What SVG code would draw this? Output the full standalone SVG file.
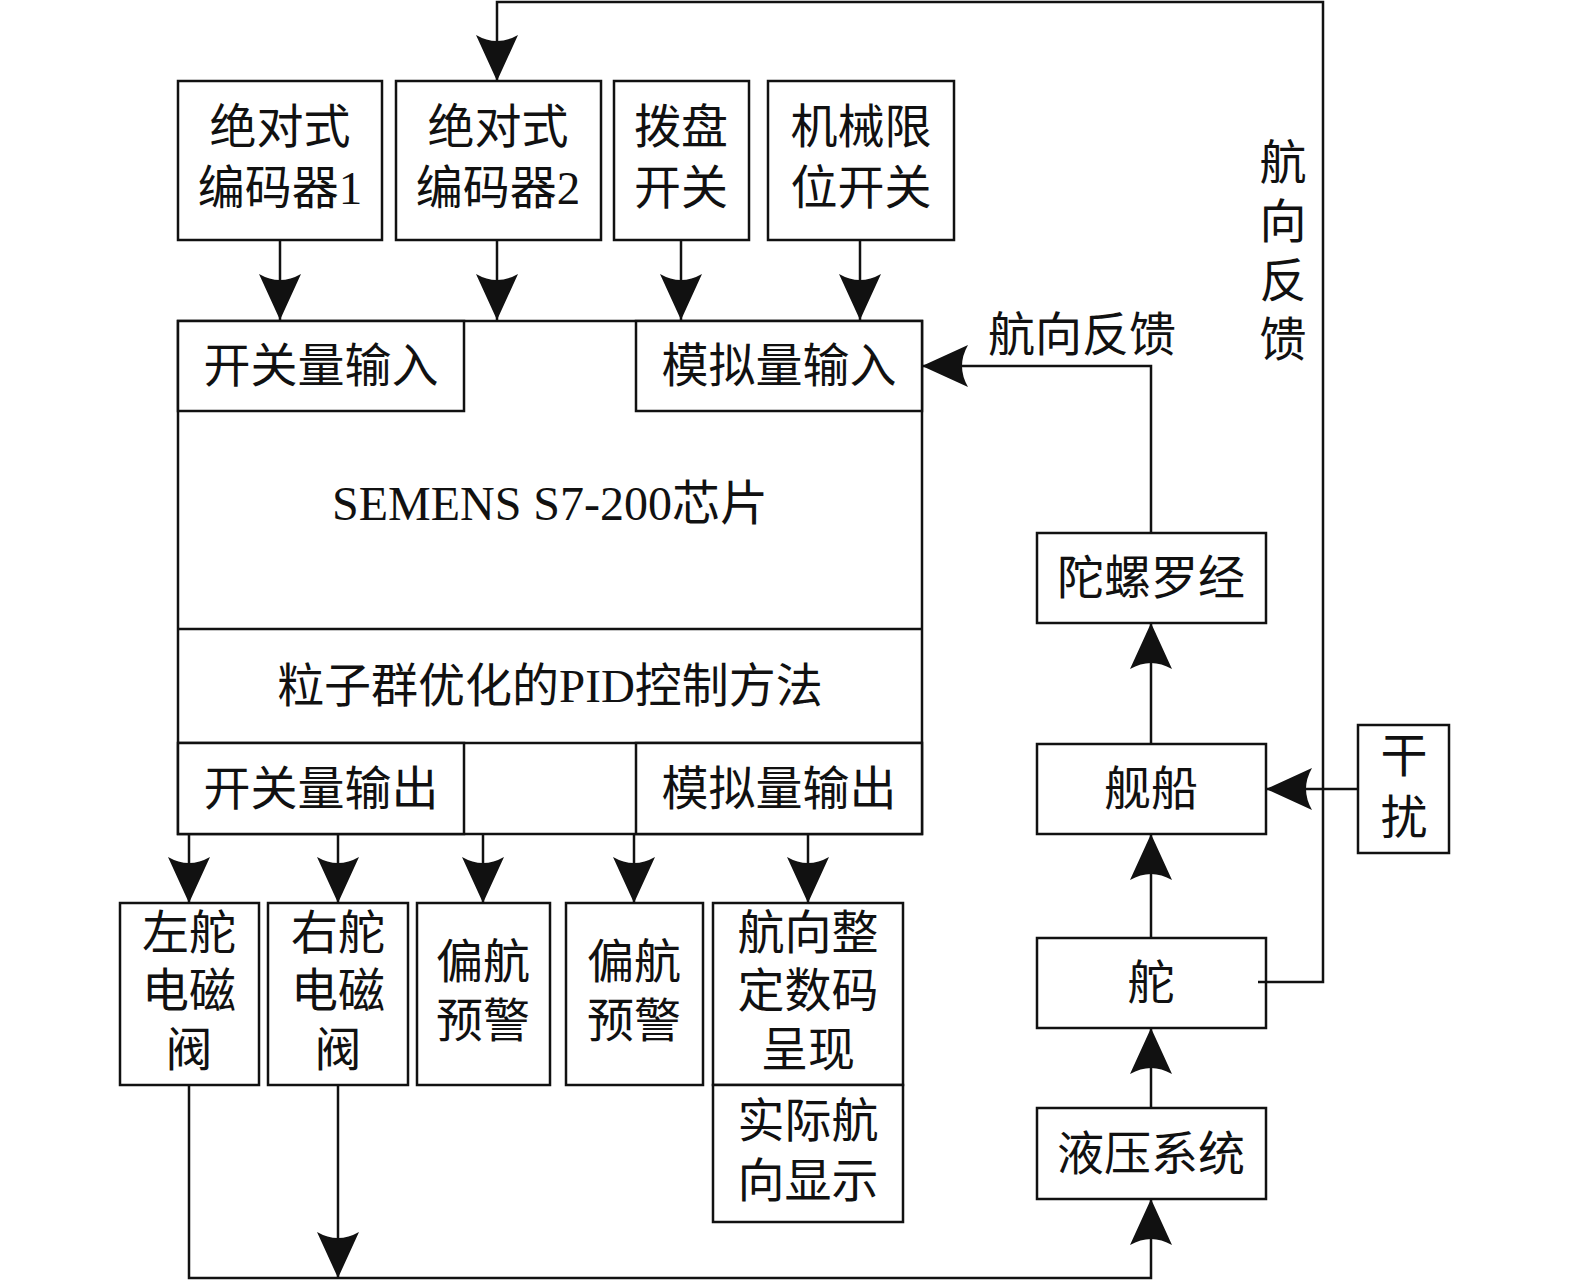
<svg xmlns="http://www.w3.org/2000/svg" width="1575" height="1288" viewBox="0 0 1575 1288">
<defs>
<marker id="ah" markerUnits="userSpaceOnUse" viewBox="-48 -24 50 48" markerWidth="50" markerHeight="48" refX="0" refY="0" orient="auto">
<path d="M0,0 L-46,-21 Q-34,0 -46,21 Z" fill="#111"/>
</marker>
<style>
rect{fill:#fff;stroke:#111;stroke-width:2.5}
line,path.c{fill:none;stroke:#111;stroke-width:2.5}
text{font-family:"Liberation Serif","Noto Sans CJK SC",serif;font-size:47px;fill:#111;text-anchor:middle;dominant-baseline:central}
</style>
</defs>
<rect x="0" y="0" width="1575" height="1288" style="stroke:none"/>

<g id="enc1"><rect x="178" y="81" width="204" height="159"/><text x="280" y="127">绝对式</text><text x="280" y="188">编码器1</text></g>
<g id="enc2"><rect x="396" y="81" width="205" height="159"/><text x="498" y="127">绝对式</text><text x="498" y="188">编码器2</text></g>
<g id="dial"><rect x="614" y="81" width="135" height="159"/><text x="681" y="127">拨盘</text><text x="681" y="188">开关</text></g>
<g id="limit"><rect x="768" y="81" width="186" height="159"/><text x="861" y="127">机械限</text><text x="861" y="188">位开关</text></g>

<g id="plc">
<rect x="178" y="321" width="744" height="513"/>
<line x1="178" y1="629" x2="922" y2="629"/>
<line x1="178" y1="743" x2="922" y2="743"/>
<text x="550" y="503" style="font-size:48px">SEMENS S7-200芯片</text>
<text x="550" y="686">粒子群优化的PID控制方法</text>
</g>
<g id="din"><rect x="178" y="321" width="286" height="90"/><text x="321" y="366">开关量输入</text></g>
<g id="ain"><rect x="636" y="321" width="286" height="90"/><text x="779" y="366">模拟量输入</text></g>
<g id="dout"><rect x="178" y="743" width="286" height="91"/><text x="321" y="789">开关量输出</text></g>
<g id="aout"><rect x="636" y="743" width="286" height="91"/><text x="779" y="789">模拟量输出</text></g>

<g id="lvalve"><rect x="120" y="903" width="139" height="182"/><text x="189" y="933">左舵</text><text x="189" y="991">电磁</text><text x="189" y="1050">阀</text></g>
<g id="rvalve"><rect x="268" y="903" width="140" height="182"/><text x="338" y="933">右舵</text><text x="338" y="991">电磁</text><text x="338" y="1050">阀</text></g>
<g id="warn1"><rect x="417" y="903" width="133" height="182"/><text x="483" y="962">偏航</text><text x="483" y="1021">预警</text></g>
<g id="warn2"><rect x="566" y="903" width="137" height="182"/><text x="634" y="962">偏航</text><text x="634" y="1021">预警</text></g>
<g id="digit"><rect x="713" y="903" width="190" height="182"/><text x="808" y="933">航向整</text><text x="808" y="991">定数码</text><text x="808" y="1050">呈现</text></g>
<g id="actual"><rect x="713" y="1085" width="190" height="137"/><text x="808" y="1121">实际航</text><text x="808" y="1181">向显示</text></g>

<g id="gyro"><rect x="1037" y="533" width="229" height="90"/><text x="1151" y="578">陀螺罗经</text></g>
<g id="ship"><rect x="1037" y="744" width="229" height="90"/><text x="1151" y="789">舰船</text></g>
<g id="rudder"><rect x="1037" y="938" width="229" height="90"/><text x="1151" y="983">舵</text></g>
<g id="hydro"><rect x="1037" y="1108" width="229" height="91"/><text x="1151" y="1154">液压系统</text></g>
<g id="dist"><rect x="1358" y="725" width="91" height="128"/><text x="1404" y="756">干</text><text x="1404" y="818">扰</text></g>

<g id="connectors">
<line x1="280" y1="240" x2="280" y2="320" marker-end="url(#ah)"/>
<line x1="497" y1="240" x2="497" y2="320" marker-end="url(#ah)"/>
<line x1="681" y1="240" x2="681" y2="320" marker-end="url(#ah)"/>
<line x1="860" y1="240" x2="860" y2="320" marker-end="url(#ah)"/>
<line x1="189" y1="834" x2="189" y2="903" marker-end="url(#ah)"/>
<line x1="338" y1="834" x2="338" y2="903" marker-end="url(#ah)"/>
<line x1="483" y1="834" x2="483" y2="903" marker-end="url(#ah)"/>
<line x1="634" y1="834" x2="634" y2="903" marker-end="url(#ah)"/>
<line x1="808" y1="834" x2="808" y2="903" marker-end="url(#ah)"/>
<path class="c" d="M189,1085 V1278 H1151 V1199" marker-end="url(#ah)"/>
<line x1="338" y1="1085" x2="338" y2="1278" marker-end="url(#ah)"/>
<line x1="1151" y1="1108" x2="1151" y2="1028" marker-end="url(#ah)"/>
<line x1="1151" y1="938" x2="1151" y2="834" marker-end="url(#ah)"/>
<line x1="1151" y1="744" x2="1151" y2="623" marker-end="url(#ah)"/>
<path class="c" d="M1151,533 V366 H922" marker-end="url(#ah)"/>
<path class="c" d="M1258,982 H1323 V2 H497 V81" marker-end="url(#ah)"/>
<line x1="1358" y1="789" x2="1266" y2="789" marker-end="url(#ah)"/>
<text x="1082" y="335">航向反馈</text>
<text x="1283" y="163">航</text>
<text x="1283" y="222">向</text>
<text x="1283" y="281">反</text>
<text x="1283" y="340">馈</text>
</g>
</svg>
